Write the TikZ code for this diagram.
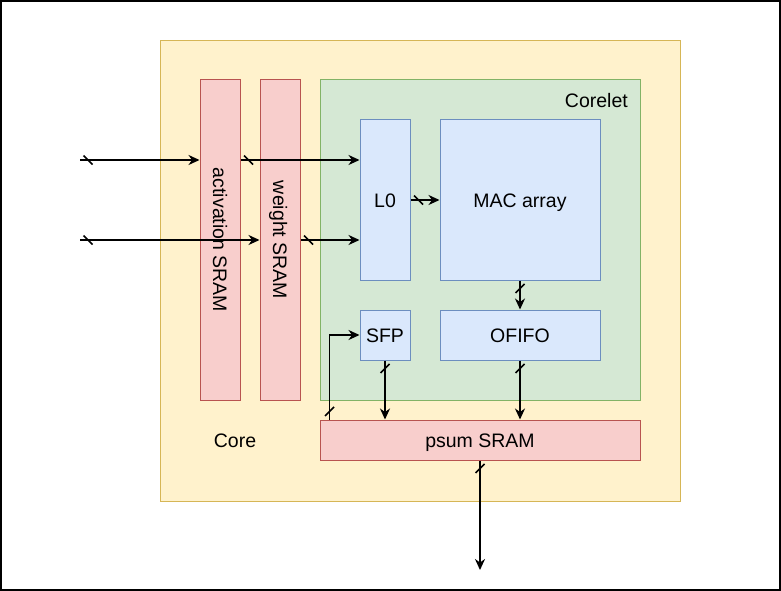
\documentclass[tikz,border=0pt]{standalone}
\usepackage{fontspec}
\setmainfont{Liberation Sans}
\usepackage{tikz}
\usetikzlibrary{arrows.meta,positioning}
\usetikzlibrary{decorations.markings}

\definecolor{coreFill}{HTML}{FFF2CC}
\definecolor{coreLine}{HTML}{D6B656}
\definecolor{letFill}{HTML}{D5E8D4}
\definecolor{letLine}{HTML}{82B366}
\definecolor{blkFill}{HTML}{DAE8FC}
\definecolor{blkLine}{HTML}{6C8EBF}
\definecolor{memFill}{HTML}{F8CECC}
\definecolor{memLine}{HTML}{B85450}

\begin{document}
\begin{tikzpicture}[x=1pt, y=-1pt]
\tikzstyle{every node}=[font=\fontsize{19.5}{23}\selectfont, inner sep=0pt, text height=14pt, text depth=0pt]
\tikzstyle{blk}=[draw=blkLine, fill=blkFill, line width=1pt]
\tikzstyle{mem}=[draw=memLine, fill=memFill, line width=1pt]
\tikzstyle{bus}=[-{Stealth[length=11pt,width=10pt,inset=3.5pt]}, line width=1.6pt,
   postaction={decorate},
   decoration={markings, mark=at position 8pt with {\draw[-, line width=1.6pt] (-4.5pt,4.5pt) -- (4.5pt,-4.5pt);}}]
\useasboundingbox (0,0) rectangle (781,591);
\draw[line width=2pt] (1,1) rectangle (780,590);
%% core and corelet
\node[draw=coreLine, fill=coreFill, line width=1pt, minimum width=520pt, minimum height=460pt] (core) at (420,271) {};
\node[draw=letLine, fill=letFill, line width=1pt, minimum width=320pt, minimum height=320pt] (corelet) at (480,240) {};
\node[anchor=east] (letname) at (628,100) {Corelet};
\node (corename) at (235,440) {Core};
\node[mem, minimum width=40pt, minimum height=320pt,
   label={[rotate=-90]center:activation SRAM}] (act) at (220,240) {};
\node[mem, minimum width=40pt, minimum height=320pt,
   label={[rotate=-90]center:weight SRAM}] (wgt) at (280,240) {};
\node[blk, minimum width=50pt, minimum height=160pt] (lzero) at (385,200) {L0};
\node[blk, minimum width=160pt, minimum height=160pt] (mac) at (520,200) {MAC array};
\node[blk, minimum width=50pt, minimum height=50pt] (sfp) at (385,335) {SFP};
\node[blk, minimum width=160pt, minimum height=50pt] (ofifo) at (520,335) {OFIFO};
\node[mem, minimum width=320pt, minimum height=40pt] (psum) at (480,440) {psum SRAM};
\coordinate (in1) at (80,160);
\coordinate (in2) at (80,240);
\coordinate (out) at (480,570);
\draw[bus] (in1) -- (in1 -| act.west);
\draw[bus] (in1 -| act.east) -- (in1 -| lzero.west);
\draw[bus] (in2) -- (in2 -| wgt.west);
\draw[bus] (in2 -| wgt.east) -- (in2 -| lzero.west);
\draw[bus] (lzero.east) -- (mac.west);
\draw[bus] (mac.south) -- (ofifo.north);
\draw[bus] (ofifo.south) -- (ofifo.south |- psum.north);
\draw[bus] (sfp.south) -- (sfp.south |- psum.north);
\draw[bus] ([xshift=10pt]psum.north west) |- (sfp.west);
\draw[bus] (psum.south) -- (out);
\end{tikzpicture}
\end{document}
